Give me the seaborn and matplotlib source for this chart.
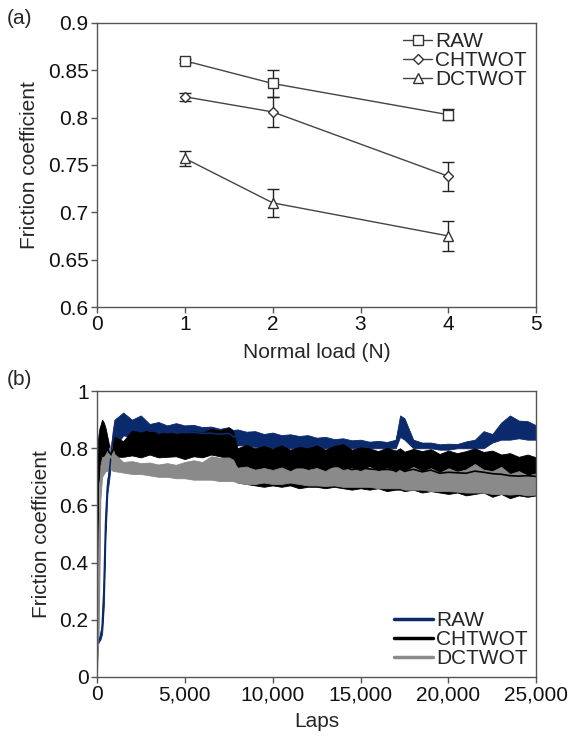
import numpy as np
import pandas as pd
import matplotlib
matplotlib.use("Agg")
import matplotlib.pyplot as plt
import seaborn as sns
from matplotlib.ticker import FuncFormatter

# ---------------------------------------------------------------------------
# Datos (a): coeficiente de fricción vs carga normal
# ---------------------------------------------------------------------------
samples = ["RAW", "CHTWOT", "DCTWOT"]
load_n = [1, 2, 4]
mu_raw = [0.860, 0.836, 0.803]
mu_cht = [0.822, 0.806, 0.738]
mu_dct = [0.757, 0.710, 0.675]
err_raw = [0.002, 0.014, 0.006]
err_cht = [0.004, 0.016, 0.015]
err_dct = [0.008, 0.015, 0.016]

# ---------------------------------------------------------------------------
# Datos (b): envolventes (min / max) de la señal
# ---------------------------------------------------------------------------
laps = [0, 50, 100, 150, 200, 300, 400, 500, 600, 700, 800, 900, 1000,
        1500, 2000, 2500, 3000, 3500, 4000, 4500, 5000, 5500, 6000, 6500,
        7000, 7500, 7750, 8000, 8500, 9000, 9500, 10000, 10500, 11000, 11500,
        12000, 12500, 13000, 13500, 14000, 14500, 15000, 15500, 16000,
        16500, 17000, 17250, 17500, 18000, 18500, 19000, 19500, 20000,
        20500, 21000, 21500, 22000, 22500, 23000, 23500, 24000, 24500, 25000]

raw_lo = [0.10, 0.11, 0.12, 0.125, 0.13, 0.15, 0.25, 0.50, 0.64, 0.69, 0.74, 0.79, 0.80,
          0.845, 0.84, 0.835, 0.835, 0.83, 0.83, 0.83, 0.83, 0.83, 0.83, 0.83,
          0.83, 0.83, 0.82, 0.81, 0.81, 0.805, 0.805, 0.80, 0.80, 0.80, 0.80,
          0.80, 0.80, 0.80, 0.80, 0.80, 0.80, 0.80, 0.80, 0.80,
          0.80, 0.80, 0.84, 0.83, 0.80, 0.80, 0.80, 0.795, 0.795,
          0.80, 0.80, 0.80, 0.80, 0.82, 0.83, 0.83, 0.835, 0.83, 0.83]
raw_hi = [0.12, 0.125, 0.13, 0.14, 0.15, 0.19, 0.35, 0.58, 0.69, 0.73, 0.80, 0.86, 0.90,
          0.925, 0.90, 0.915, 0.885, 0.892, 0.88, 0.888, 0.88, 0.882, 0.874, 0.876,
          0.868, 0.874, 0.864, 0.866, 0.858, 0.86, 0.85, 0.855, 0.846, 0.849, 0.843,
          0.846, 0.837, 0.84, 0.832, 0.835, 0.828, 0.83, 0.823, 0.826,
          0.822, 0.83, 0.915, 0.905, 0.83, 0.82, 0.82, 0.814, 0.816,
          0.815, 0.824, 0.83, 0.86, 0.85, 0.89, 0.915, 0.897, 0.895, 0.88]

cht_lo = [0.12, 0.55, 0.68, 0.70, 0.72, 0.75, 0.77, 0.78, 0.77, 0.76, 0.76, 0.76, 0.77,
          0.77, 0.775, 0.768, 0.778, 0.768, 0.77, 0.772, 0.762, 0.772, 0.768, 0.778,
          0.772, 0.762, 0.75, 0.68, 0.675, 0.67, 0.665, 0.67, 0.665, 0.67, 0.66,
          0.665, 0.665, 0.66, 0.665, 0.66, 0.655, 0.66, 0.655, 0.66,
          0.65, 0.655, 0.655, 0.65, 0.655, 0.645, 0.65, 0.645, 0.64,
          0.645, 0.635, 0.64, 0.645, 0.63, 0.64, 0.625, 0.635, 0.63, 0.635]
cht_hi = [0.15, 0.82, 0.85, 0.87, 0.88, 0.90, 0.89, 0.87, 0.84, 0.81, 0.80, 0.82, 0.84,
          0.825, 0.862, 0.855, 0.865, 0.85, 0.858, 0.85, 0.855, 0.86, 0.855, 0.868,
          0.862, 0.872, 0.86, 0.80, 0.812, 0.80, 0.808, 0.798, 0.81, 0.795, 0.805,
          0.80, 0.81, 0.795, 0.808, 0.815, 0.795, 0.803, 0.80, 0.79,
          0.802, 0.792, 0.80, 0.788, 0.798, 0.79, 0.797, 0.78, 0.792,
          0.783, 0.79, 0.80, 0.787, 0.792, 0.778, 0.783, 0.77, 0.778, 0.768]

dct_lo = [0.0, 0.08, 0.15, 0.35, 0.62, 0.70, 0.71, 0.72, 0.72, 0.73, 0.73, 0.72, 0.72,
          0.715, 0.71, 0.71, 0.705, 0.70, 0.70, 0.695, 0.695, 0.69, 0.69, 0.69,
          0.685, 0.685, 0.685, 0.68, 0.675, 0.675, 0.68, 0.675, 0.675, 0.68, 0.675,
          0.67, 0.67, 0.668, 0.67, 0.665, 0.665, 0.665, 0.665, 0.66,
          0.66, 0.66, 0.66, 0.655, 0.655, 0.655, 0.65, 0.65, 0.65,
          0.648, 0.645, 0.645, 0.645, 0.64, 0.64, 0.638, 0.64, 0.635, 0.638]
dct_hi = [0.02, 0.15, 0.35, 0.62, 0.74, 0.77, 0.77, 0.78, 0.79, 0.80, 0.815, 0.80, 0.78,
          0.752, 0.755, 0.748, 0.75, 0.743, 0.748, 0.742, 0.752, 0.758, 0.752, 0.772,
          0.767, 0.768, 0.76, 0.732, 0.736, 0.725, 0.731, 0.724, 0.733, 0.72, 0.735,
          0.724, 0.731, 0.72, 0.74, 0.724, 0.73, 0.72, 0.735, 0.72,
          0.73, 0.715, 0.726, 0.718, 0.735, 0.718, 0.73, 0.714, 0.73,
          0.718, 0.726, 0.745, 0.725, 0.72, 0.735, 0.71, 0.72, 0.705, 0.712]

line_colors = {"RAW": "#0b2a6b", "CHTWOT": "#000000", "DCTWOT": "#8a8a8a"}
markers = {"RAW": "s", "CHTWOT": "D", "DCTWOT": "^"}
msizes = {"RAW": 7, "CHTWOT": 5.5, "DCTWOT": 7.5}

# ---------------------------------------------------------------------------
# Estilo
# ---------------------------------------------------------------------------
sns.set_style("ticks")
plt.rcParams["font.family"] = ["Liberation Sans", "DejaVu Sans"]
FS = 15
AX_COL = "#555555"

def estilo_ejes(ax):
    for s in ax.spines.values():
        s.set_visible(True)
        s.set_color(AX_COL)
        s.set_linewidth(1.0)
    ax.tick_params(direction="out", length=4, width=1, color=AX_COL,
                   labelsize=FS, labelcolor="#111111", pad=2)

fig = plt.figure(figsize=(5.73, 7.38), dpi=100)
ax1 = fig.add_axes([0.169, 0.584, 0.767, 0.385])
ax2 = fig.add_axes([0.169, 0.083, 0.767, 0.387])

# ---------------------------------------------------------------------------
# (a)
# ---------------------------------------------------------------------------
df_a = pd.DataFrame({
    "load": load_n * 3,
    "mu": mu_raw + mu_cht + mu_dct,
    "err": err_raw + err_cht + err_dct,
    "sample": sum([[s] * len(load_n) for s in samples], []),
})
for s in samples:
    d = df_a[df_a["sample"] == s]
    ax1.errorbar(d["load"], d["mu"], yerr=d["err"], fmt="none",
                 ecolor="#222222", elinewidth=1.0, capsize=4, capthick=1.0, zorder=2)
    sns.lineplot(data=d, x="load", y="mu", ax=ax1, color="#444444", linewidth=1.0,
                 marker=markers[s], markersize=msizes[s], mfc="white",
                 markeredgecolor="#333333", markeredgewidth=1.0, label=s, zorder=3)

ax1.set_xlim(0, 5)
ax1.set_ylim(0.6, 0.9)
ax1.set_xticks(range(0, 6))
ax1.set_yticks(np.arange(0.6, 0.901, 0.05))
ax1.yaxis.set_major_formatter(FuncFormatter(lambda v, p: f"{v:g}"))
ax1.set_xlabel("Normal load (N)", fontsize=FS, labelpad=6)
ax1.set_ylabel("Friction coefficient", fontsize=FS, labelpad=6)
estilo_ejes(ax1)
leg1 = ax1.legend(loc="upper right", frameon=False, fontsize=FS, handlelength=1.4,
                  handletextpad=0.15, labelspacing=0.0, borderaxespad=0.05, numpoints=1)
fig.text(0.012, 0.968, "(a)", fontsize=FS)

# ---------------------------------------------------------------------------
# (b)
# ---------------------------------------------------------------------------
n = len(laps)
df_b = pd.DataFrame({
    "laps": laps * 6,
    "mu": raw_lo + raw_hi + cht_lo + cht_hi + dct_lo + dct_hi,
    "sample": ["RAW"] * (2 * n) + ["CHTWOT"] * (2 * n) + ["DCTWOT"] * (2 * n),
})
sns.lineplot(data=df_b, x="laps", y="mu", hue="sample", hue_order=samples,
             palette=line_colors, errorbar=("pi", 100), linewidth=1.2,
             err_kws={"alpha": 1.0, "linewidth": 0.6}, ax=ax2)

ax2.set_xlim(0, 25000)
ax2.set_ylim(0, 1)
ax2.set_xticks(range(0, 25001, 5000))
ax2.set_yticks(np.arange(0, 1.01, 0.2))
ax2.xaxis.set_major_formatter(FuncFormatter(lambda v, p: f"{int(v):,}"))
ax2.yaxis.set_major_formatter(FuncFormatter(lambda v, p: f"{v:g}"))
ax2.set_xlabel("Laps", fontsize=FS, labelpad=6)
ax2.set_ylabel("Friction coefficient", fontsize=FS, labelpad=6)
estilo_ejes(ax2)
leg2 = ax2.legend(loc="lower right", frameon=False, fontsize=FS, handlelength=1.9,
                  handletextpad=0.15, labelspacing=0.0, borderaxespad=0.0)
for h in leg2.get_lines():
    h.set_linewidth(2.5)
fig.text(0.012, 0.478, "(b)", fontsize=FS)

fig.savefig("out.png", dpi=100)
